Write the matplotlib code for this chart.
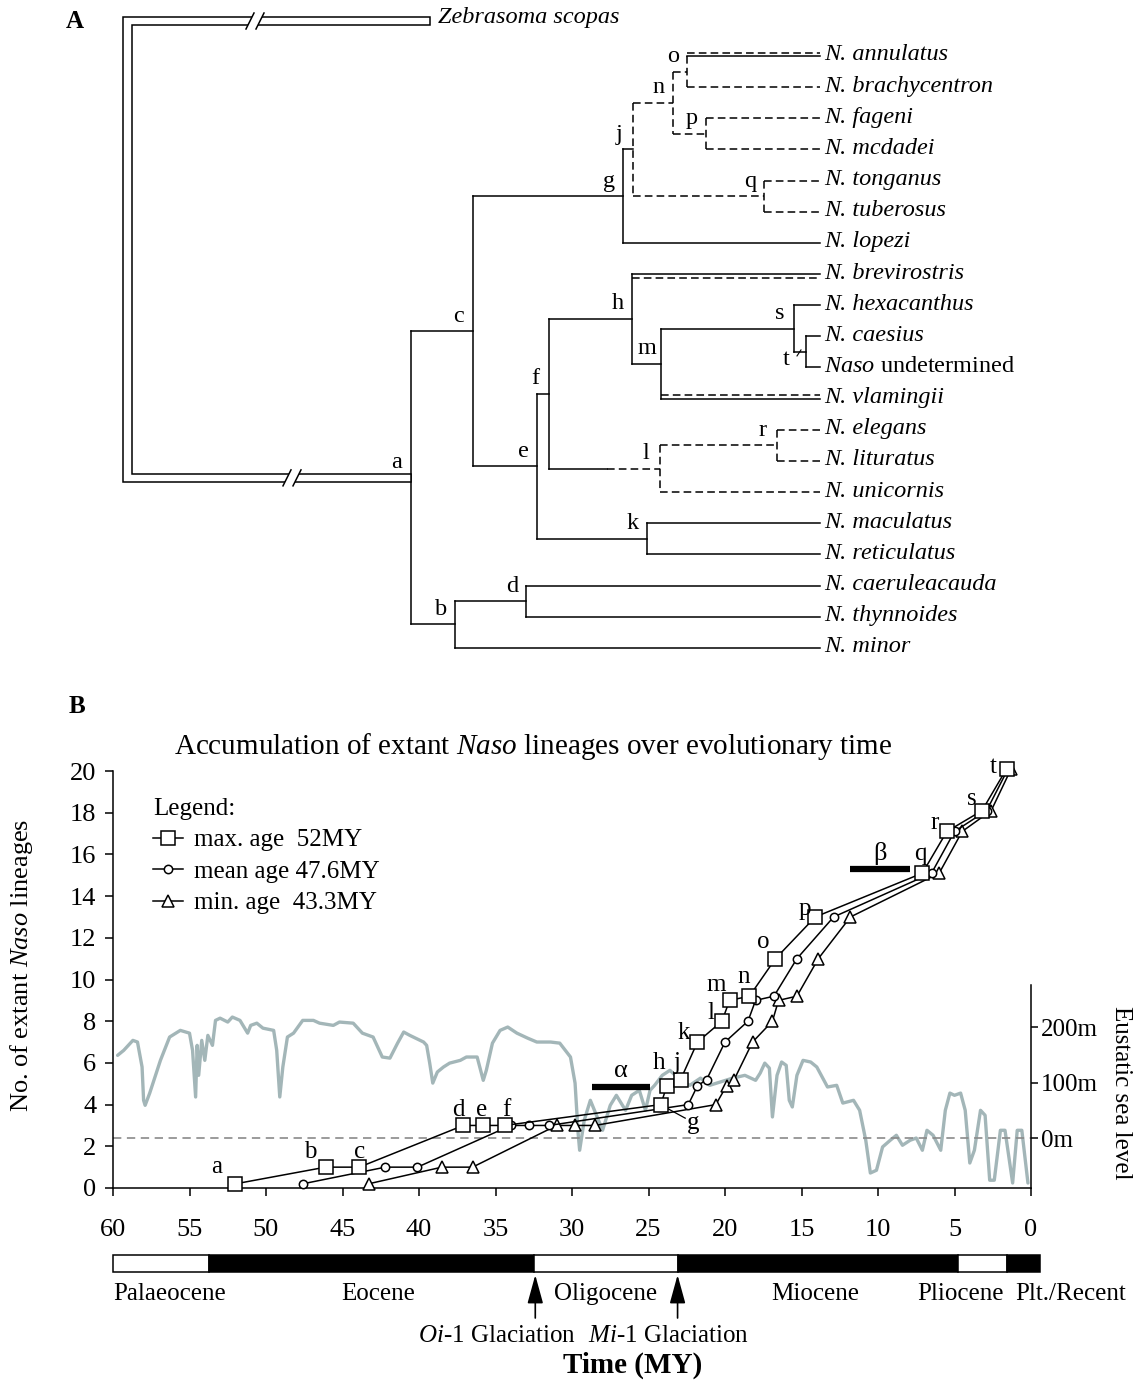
import matplotlib
matplotlib.use('Agg')
import matplotlib.pyplot as plt
from matplotlib.patches import Rectangle, Polygon
import matplotlib.transforms as mtransforms

plt.rcParams['font.family'] = ['Liberation Serif', 'DejaVu Serif']
plt.rcParams['mathtext.fontset'] = 'custom'
plt.rcParams['mathtext.rm'] = 'Liberation Serif'
plt.rcParams['mathtext.it'] = 'Liberation Serif:italic'
plt.rcParams['mathtext.bf'] = 'Liberation Serif:bold'
plt.rcParams['lines.scale_dashes'] = False

# ======================= DATA =======================
# ---- Panel A: phylogeny ----
OUTGROUP = 'Zebrasoma scopas'
TIPS = ['N. annulatus', 'N. brachycentron', 'N. fageni', 'N. mcdadei',
        'N. tonganus', 'N. tuberosus', 'N. lopezi', 'N. brevirostris',
        'N. hexacanthus', 'N. caesius', 'Naso undetermined', 'N. vlamingii',
        'N. elegans', 'N. lituratus', 'N. unicornis', 'N. maculatus',
        'N. reticulatus', 'N. caeruleacauda', 'N. thynnoides', 'N. minor']
CLADES = {
    'a': ['c', 'b'],
    'c': ['g', 'e'],
    'g': ['j', 'N. lopezi'],
    'j': ['n', 'q'],
    'n': ['o', 'p'],
    'o': ['N. annulatus', 'N. brachycentron'],
    'p': ['N. fageni', 'N. mcdadei'],
    'q': ['N. tonganus', 'N. tuberosus'],
    'e': ['f', 'k'],
    'f': ['h', 'l'],
    'h': ['N. brevirostris', 'm'],
    'm': ['s', 'N. vlamingii'],
    's': ['N. hexacanthus', 't'],
    't': ['N. caesius', 'Naso undetermined'],
    'l': ['r', 'N. unicornis'],
    'r': ['N. elegans', 'N. lituratus'],
    'k': ['N. maculatus', 'N. reticulatus'],
    'b': ['d', 'N. minor'],
    'd': ['N. caeruleacauda', 'N. thynnoides'],
}
# node depth (horizontal position in tree drawing units)
NODE_DEPTH = {'a': 411, 'b': 455, 'd': 526, 'c': 473, 'g': 623, 'j': 633,
              'n': 673, 'o': 687, 'p': 706, 'q': 764, 'e': 537, 'f': 549,
              'h': 632, 'm': 661, 's': 794, 't': 806, 'l': 660, 'r': 777,
              'k': 647}
TIP_DEPTH = 820
OUTGROUP_DEPTH = 430
ROOT_DEPTH = 123
DASHED_STEMS = {'n', 'o', 'p', 'q', 'r', 'N. brachycentron', 'N. fageni',
                'N. mcdadei', 'N. tonganus', 'N. tuberosus', 'N. elegans',
                'N. lituratus', 'N. unicornis'}
DOUBLE_STEMS = {'N. annulatus': -3, 'N. brevirostris': 4, 'N. vlamingii': -4}
DASHED_VERTICALS = {'j', 'n', 'o', 'p', 'q', 'l', 'r'}
PARTIAL_STEM = {'l': 607}   # solid up to this depth, dashed after

# ---- Panel B: lineage accumulation ----
NODES = ['a', 'b', 'c', 'd', 'e', 'f', 'g', 'h', 'j', 'k', 'l', 'm', 'n',
         'o', 'p', 'q', 'r', 's', 't']
LINEAGES = [0.2, 1, 1, 3, 3, 3, 4, 4.9, 5.2, 7, 8, 9, 9.2, 11, 13, 15.1,
            17.1, 18.1, 20.1]
MAX_AGE = [52.0, 46.1, 43.9, 37.1, 35.8, 34.4, 24.2, 23.8, 22.9, 21.8, 20.2,
           19.7, 18.4, 16.7, 14.1, 7.1, 5.5, 3.2, 1.6]
MEAN_AGE = [47.6, 42.2, 40.1, 34.0, 32.8, 31.5, 22.4, 21.8, 21.2, 20.0, 18.5,
            18.0, 16.8, 15.3, 12.9, 6.5, 5.0, 2.9, 1.5]
MIN_AGE = [43.3, 38.5, 36.5, 31.0, 29.8, 28.5, 20.6, 19.9, 19.4, 18.2, 16.9,
           16.5, 15.3, 13.9, 11.8, 6.0, 4.5, 2.6, 1.3]
LEGEND_LABELS = ['max. age  52MY', 'mean age 47.6MY', 'min. age  43.3MY']
NODE_LABEL_AGE = [53.2, 47.1, 43.9, 37.4, 35.9, 34.3, 22.1, 24.3, 23.1, 22.7,
                  20.9, 20.6, 18.8, 17.5, 14.8, 7.2, 6.3, 3.9, 2.5]
NODE_LABEL_Y = [1.0, 1.75, 1.75, 3.75, 3.75, 3.75, 3.1, 6.0, 6.0, 7.45, 8.4,
                9.75, 10.1, 11.8, 13.4, 16.0, 17.5, 18.65, 20.2]
BARS = {'α': (28.7, 24.9, 4.85), 'β': (11.8, 7.9, 15.3)}

SEA_AGE = [59.7, 59.3, 58.7, 58.4, 58.1, 58.0, 57.9, 57.6, 56.9, 56.3,
           55.6, 55.0, 54.8, 54.6, 54.5, 54.4, 54.2, 54.0, 53.8, 53.5,
           53.3, 53.0, 52.5, 52.2, 51.7, 51.2, 51.0, 50.6, 50.2, 49.5,
           49.3, 49.1, 48.9, 48.6, 48.2, 47.6, 46.9, 46.5, 45.6, 45.2,
           44.3, 43.7, 43.0, 42.4, 41.9, 41.4, 41.0, 40.6, 39.7, 39.5,
           39.3, 39.1, 38.8, 38.4, 38.0, 37.3, 36.9, 36.2, 35.8, 35.6,
           35.2, 34.7, 34.2, 33.6, 32.9, 32.3, 31.4, 30.8, 30.1, 29.8,
           29.6, 29.5, 29.2, 28.8, 28.4, 28.0, 27.5, 27.1, 26.5, 26.1,
           25.6, 25.2, 24.9, 24.6, 24.1, 23.6, 22.9, 22.3, 21.6, 21.0,
           20.3, 19.5, 18.7, 18.0, 17.7, 17.4, 17.1, 16.9, 16.6, 16.3,
           16.0, 15.8, 15.6, 15.3, 14.9, 14.4, 14.0, 13.3, 12.7, 12.3,
           11.6, 11.2, 10.8, 10.5, 10.1, 9.7, 9.2, 8.8, 8.4, 7.9,
           7.5, 7.1, 6.8, 6.4, 5.9, 5.6, 5.3, 5.0, 4.6, 4.3,
           4.0, 3.7, 3.3, 3.0, 2.7, 2.4, 2.0, 1.7, 1.2, 0.9,
           0.6, 0.2]
SEA_LEVEL = [149, 158, 176, 173, 128, 68, 59, 81, 140, 182,
             194, 189, 158, 74, 167, 113, 176, 140, 185, 167,
             212, 216, 209, 218, 212, 189, 203, 207, 198, 194,
             158, 74, 128, 182, 189, 212, 212, 207, 203, 209,
             207, 189, 182, 146, 144, 171, 191, 185, 173, 167,
             135, 99, 119, 128, 135, 140, 146, 146, 104, 122,
             171, 194, 200, 189, 180, 173, 173, 171, 146, 99,
             9, -22, 32, 68, 41, 14, 59, 77, 50, 77,
             86, 50, 86, 95, 113, 122, 104, 95, 108, 95,
             101, 108, 113, 104, 117, 135, 126, 38, 113, 137,
             131, 68, 56, 113, 140, 137, 128, 92, 95, 63,
             68, 50, -4, -63, -58, -16, -4, 5, -13, -4,
             0, -22, 14, 5, -22, 50, 81, 77, 81, 50,
             -45, -22, 50, 41, -76, -76, 14, 14, -81, 14,
             14, -81]
SEA_TICKS = [0, 100, 200]
SEA_TICK_LABELS = ['0m', '100m', '200m']

EPOCHS = ['Palaeocene', 'Eocene', 'Oligocene', 'Miocene', 'Pliocene', 'Plt./Recent']
EPOCH_START = [60, 53.7, 32.5, 23.1, 4.8, 1.6]
EPOCH_END = [53.7, 32.5, 23.1, 4.8, 1.6, -0.6]
EPOCH_DARK = [False, True, False, True, False, True]
EPOCH_LABEL_AGE = [56.3, 42.7, 27.8, 14.1, 4.6, -2.6]
GLACIATIONS = [r'$\mathit{Oi}$-1 Glaciation', r'$\mathit{Mi}$-1 Glaciation']
GLACIATION_AGE = [32.4, 23.1]
GLACIATION_LABEL_AGE = [34.9, 23.7]

# ======================= FIGURE =======================
W, H = 1142, 1381
fig = plt.figure(figsize=(W / 100, H / 100), dpi=100)


def fx(px):
    return px / W


def fy(py):
    return 1 - py / H


LW = 1.1
DASH = (0, (5.5, 3.0))

# ---------------- Panel A ----------------
HALF = 691
axA = fig.add_axes([0, fy(HALF), 1, HALF / H])
axA.set_xlim(0, W)
axA.set_ylim(HALF, 0)
axA.axis('off')

TIP_Y0, TIP_STEP = 56, 31.15
tip_y = {name: TIP_Y0 + i * TIP_STEP for i, name in enumerate(TIPS)}
node_y = {}


def gety(n):
    if n in tip_y:
        return tip_y[n]
    if n not in node_y:
        ys = [gety(c) for c in CLADES[n]]
        node_y[n] = sum(ys) / len(ys)
    return node_y[n]


gety('a')
parent = {c: p for p, cs in CLADES.items() for c in cs}


def depth(n):
    return NODE_DEPTH.get(n, TIP_DEPTH)


# stems
for n, p in parent.items():
    x0, x1, y = depth(p), depth(n), gety(n)
    if n in PARTIAL_STEM:
        xm = PARTIAL_STEM[n]
        axA.plot([x0, xm], [y, y], color='k', lw=LW)
        axA.plot([xm, x1], [y, y], color='k', lw=LW, ls=DASH)
    elif n in DOUBLE_STEMS:
        axA.plot([x0, x1], [y, y], color='k', lw=LW)
        off = DOUBLE_STEMS[n]
        axA.plot([x0, x1], [y + off, y + off], color='k', lw=LW, ls=DASH)
    elif n in DASHED_STEMS:
        axA.plot([x0, x1], [y, y], color='k', lw=LW, ls=DASH)
    else:
        axA.plot([x0, x1], [y, y], color='k', lw=LW)

# verticals
for p, cs in CLADES.items():
    ys = [gety(c) for c in cs]
    axA.plot([depth(p), depth(p)], [min(ys), max(ys)], color='k', lw=LW,
             ls=DASH if p in DASHED_VERTICALS else '-')

# hollow root bars
zy = 21
ay = gety('a')
hb = 4
root_poly = [(ROOT_DEPTH, zy - hb), (OUTGROUP_DEPTH, zy - hb), (OUTGROUP_DEPTH, zy + hb),
             (ROOT_DEPTH + 9, zy + hb), (ROOT_DEPTH + 9, ay - hb), (NODE_DEPTH['a'], ay - hb),
             (NODE_DEPTH['a'], ay + hb), (ROOT_DEPTH, ay + hb)]
axA.add_patch(Polygon(root_poly, closed=True, facecolor='white', edgecolor='k', lw=LW, zorder=3))
for xb, yb in [(250, zy), (287, ay)]:
    axA.add_patch(Polygon([(xb - 4, yb + 8), (xb + 4, yb - 8), (xb + 14, yb - 8), (xb + 6, yb + 8)],
                          closed=True, facecolor='white', edgecolor='none', zorder=4))
    axA.plot([xb - 4, xb + 4], [yb + 8, yb - 8], color='k', lw=LW, zorder=5)
    axA.plot([xb + 6, xb + 14], [yb + 8, yb - 8], color='k', lw=LW, zorder=5)

# tip labels
FS_TREE = 17.5
for name, y in tip_y.items():
    if name == 'Naso undetermined':
        txt = r'$\mathit{Naso}$ undetermined'
        axA.text(TIP_DEPTH + 4, y - 1, txt, fontsize=FS_TREE, va='center', ha='left')
    else:
        axA.text(TIP_DEPTH + 4, y - 1, name, fontsize=FS_TREE, style='italic',
                 va='center', ha='left')
axA.text(OUTGROUP_DEPTH + 8, zy - 4, OUTGROUP, fontsize=FS_TREE, style='italic',
         va='center', ha='left')

# node labels
for n in CLADES:
    x, y = depth(n), gety(n)
    if n == 't':
        axA.text(x - 20, y + 8, n, fontsize=FS_TREE, ha='center', va='center')
        axA.plot([x - 9, x - 5], [y + 4, y - 2], color='k', lw=0.8)
    else:
        axA.text(x - 14, y - 15, n, fontsize=FS_TREE, ha='center', va='center')

fig.text(fx(75), fy(22), 'A', fontsize=18, weight='bold', ha='center', va='center')
fig.text(fx(77), fy(707), 'B', fontsize=18, weight='bold', ha='center', va='center')

# ---------------- Panel B ----------------
L, R, T, B = 113, 1031, 771, 1188
ax = fig.add_axes([fx(L), fy(B), fx(R) - fx(L), fy(T) - fy(B)])
ax.set_xlim(60, 0)
ax.set_ylim(0, 20)
ax.set_xticks(list(range(60, -1, -5)))
ax.set_yticks(list(range(0, 21, 2)))
for s in ['top', 'right']:
    ax.spines[s].set_visible(False)
for s in ['left', 'bottom']:
    ax.spines[s].set_linewidth(LW)
ax.tick_params(axis='both', direction='out', length=6, width=LW, labelsize=19)
ax.tick_params(axis='x', pad=16)
ax.tick_params(axis='y', pad=6)

# sea-level twin axis
ax_sl = ax.twinx()
px_per_m = 0.555
sl_bottom = -90
ax_sl.set_ylim(sl_bottom, sl_bottom + (B - T) / px_per_m)
for s in ['top', 'left', 'bottom']:
    ax_sl.spines[s].set_visible(False)
ax_sl.spines['right'].set_bounds(sl_bottom, sl_bottom + (B - 985) / px_per_m)
ax_sl.spines['right'].set_linewidth(LW)
ax_sl.set_yticks(SEA_TICKS)
ax_sl.set_yticklabels(SEA_TICK_LABELS)
ax_sl.tick_params(axis='y', direction='out', length=5, width=LW, labelsize=18, pad=2)
ax_sl.plot(SEA_AGE, SEA_LEVEL, color='#a3b6b8', lw=2.4, solid_joinstyle='round',
           solid_capstyle='round')
ax_sl.axhline(0, color='#8a8a8a', lw=1.2, ls=(0, (6, 4)))
ax.set_zorder(2)
ax_sl.set_zorder(1)
ax.patch.set_visible(False)

mk = dict(color='k', lw=LW, mfc='white', mec='k', mew=LW, clip_on=False)
l_max, = ax.plot(MAX_AGE, LINEAGES, marker='s', ms=9.5, zorder=6, **mk)
l_mean, = ax.plot(MEAN_AGE, LINEAGES, marker='o', ms=6, zorder=5, **mk)
l_min, = ax.plot(MIN_AGE, LINEAGES, marker='^', ms=8, zorder=4, **mk)

for n, xa, ya in zip(NODES, NODE_LABEL_AGE, NODE_LABEL_Y):
    ax.text(xa, ya, n, fontsize=18, ha='center', va='center', zorder=7)
gi = NODES.index('g')
ax.plot([MAX_AGE[gi] - 0.35, NODE_LABEL_AGE[gi] + 0.5],
        [LINEAGES[gi] - 0.15, NODE_LABEL_Y[gi] + 0.25], color='k', lw=0.9)

for lab, (x0, x1, yb) in BARS.items():
    ax.plot([x0, x1], [yb, yb], color='k', lw=4.5, solid_capstyle='butt', zorder=3)
    ax.text((x0 + x1) / 2, yb + 0.75, lab, fontsize=19, ha='center', va='center')

leg = ax.legend([l_max, l_mean, l_min], LEGEND_LABELS, title='Legend:',
                loc='upper left', bbox_to_anchor=(fx(153), fy(798)),
                bbox_transform=fig.transFigure, frameon=False, fontsize=18,
                title_fontsize=18, handlelength=1.2, handletextpad=0.45,
                labelspacing=0.36, alignment='left', borderpad=0, borderaxespad=0)

fig.text(fx(533), fy(746), r'Accumulation of extant $\mathit{Naso}$ lineages over evolutionary time',
         fontsize=21, ha='center', va='center')
fig.text(fx(22), fy(965), r'No. of extant $\mathit{Naso}$ lineages', fontsize=19,
         rotation=90, ha='center', va='center')
fig.text(fx(1121), fy(1093), 'Eustatic sea level', fontsize=18, rotation=270,
         ha='center', va='center')

# epoch bar
ax_ep = fig.add_axes([fx(L), fy(1272), fx(R) - fx(L), 17 / H])
ax_ep.set_xlim(60, 0)
ax_ep.set_ylim(0, 1)
ax_ep.axis('off')
for s0, s1, dark in zip(EPOCH_START, EPOCH_END, EPOCH_DARK):
    ax_ep.add_patch(Rectangle((min(s0, s1), 0), abs(s0 - s1), 1,
                              facecolor='k' if dark else 'white', edgecolor='k',
                              lw=LW, clip_on=False))
blend = mtransforms.blended_transform_factory(ax_ep.transData, fig.transFigure)
for name, xa in zip(EPOCHS, EPOCH_LABEL_AGE):
    ax_ep.text(xa, fy(1294), name, transform=blend, fontsize=18, ha='center',
               va='center', clip_on=False)
for lab, xg, xl in zip(GLACIATIONS, GLACIATION_AGE, GLACIATION_LABEL_AGE):
    ax_ep.annotate('', xy=(xg, fy(1275)), xytext=(xg, fy(1318)), xycoords=blend,
                   textcoords=blend,
                   arrowprops=dict(arrowstyle='-|>,head_length=0.8,head_width=0.22',
                                   color='k', lw=1.2, mutation_scale=22,
                                   shrinkA=0, shrinkB=0))
    ax_ep.text(xl, fy(1336), lab, transform=blend, fontsize=18, ha='center',
               va='center', clip_on=False)

fig.text(fx(633), fy(1365), 'Time (MY)', fontsize=21, weight='bold', ha='center',
         va='center')

fig.savefig('out.png', dpi=100)
